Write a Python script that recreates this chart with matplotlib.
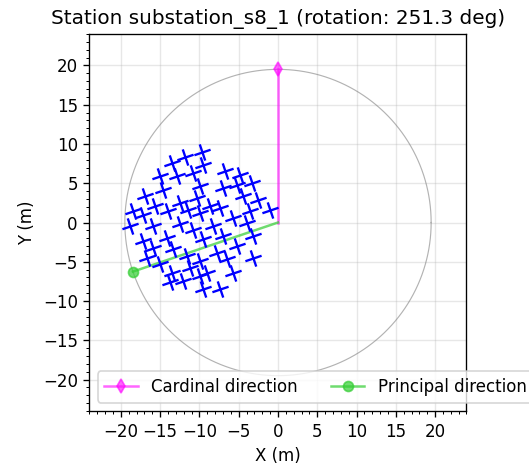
import numpy as np
import matplotlib
matplotlib.use("Agg")
import matplotlib.pyplot as plt
from matplotlib.markers import MarkerStyle
from matplotlib.transforms import Affine2D
from matplotlib.ticker import MultipleLocator

# -------- Данные --------
station = "substation_s8_1"
rotation_deg = 251.3
radius = 19.5

ant_x = [-9.72, -11.85, -13.54, -9.51, -15.03, -12.91, -10.79, -6.75, -4.84, -14.61,
         -9.94, -6.97, -5.27, -3.35, -16.94, -15.67, -12.48, -10.36, -8.66, -4.42,
         -2.51, -18.43, -17.16, -13.97, -11.42, -7.39, -9.94, -5.69, -3.57, -1.02,
         -18.85, -15.88, -12.48, -10.79, -8.24, -3.99, -17.16, -14.18, -9.51, -6.97,
         -3.15, -15.88, -13.33, -16.73, -11.63, -7.81, -5.27, -9.94, -6.54, -3.15,
         -15.03, -13.54, -11.21, -9.08, -5.69, -13.76, -12.06, -9.94, -7.39, -9.51]
ant_y = [9.03, 8.40, 7.55, 7.34, 5.86, 5.86, 6.29, 6.50, 6.08, 4.18,
         4.60, 4.39, 4.81, 5.02, 3.33, 2.07, 2.49, 3.12, 2.07, 3.33,
         2.91, 1.43, 1.01, 1.43, 1.65, 1.86, 1.23, 0.59, 1.43, 1.65,
         -0.47, -0.47, -0.25, -0.89, -0.47, -0.04, -2.37, -1.94, -2.15, -1.73,
         -1.73, -3.21, -3.42, -4.47, -4.26, -3.84, -3.00, -4.89, -4.68, -4.47,
         -5.32, -6.37, -5.74, -6.37, -6.37, -7.63, -7.43, -6.80, -8.48, -8.48]

# -------- График --------
DPI = 120
fig = plt.figure(figsize=(529 / DPI, 466 / DPI), dpi=DPI)
ax = fig.add_axes([0.168, 0.118, 0.715, 0.809])

marker = MarkerStyle("+", transform=Affine2D().rotate_deg(90 - rotation_deg))
ax.scatter(ant_x, ant_y, marker=marker, s=105, color="blue", linewidths=1.4, zorder=3)

# окружность станции
theta = np.linspace(0, 2 * np.pi, 361)
ax.plot(radius * np.cos(theta), radius * np.sin(theta), color="gray", lw=0.7, alpha=0.6)

# направления
ax.plot([0, 0], [0, radius], color="magenta", marker="d", markevery=[1],
        markersize=6, alpha=0.6, label="Cardinal direction")
rot = np.deg2rad(rotation_deg)
ax.plot([0, radius * np.sin(rot)], [0, radius * np.cos(rot)], color="limegreen",
        marker="o", markevery=[1], markersize=6, alpha=0.7, label="Principal direction")

ax.set_xlim(-24, 24)
ax.set_ylim(-24, 24)
ax.set_aspect("equal")
ax.xaxis.set_major_locator(MultipleLocator(5))
ax.yaxis.set_major_locator(MultipleLocator(5))
ax.xaxis.set_minor_locator(MultipleLocator(1))
ax.yaxis.set_minor_locator(MultipleLocator(1))
ax.grid(True, alpha=0.3)
ax.set_xlabel("X (m)")
ax.set_ylabel("Y (m)")
ax.set_title(f"Station {station} (rotation: {rotation_deg} deg)")
ax.legend(loc="lower left", ncol=2)

fig.savefig("out.png", dpi=DPI)
